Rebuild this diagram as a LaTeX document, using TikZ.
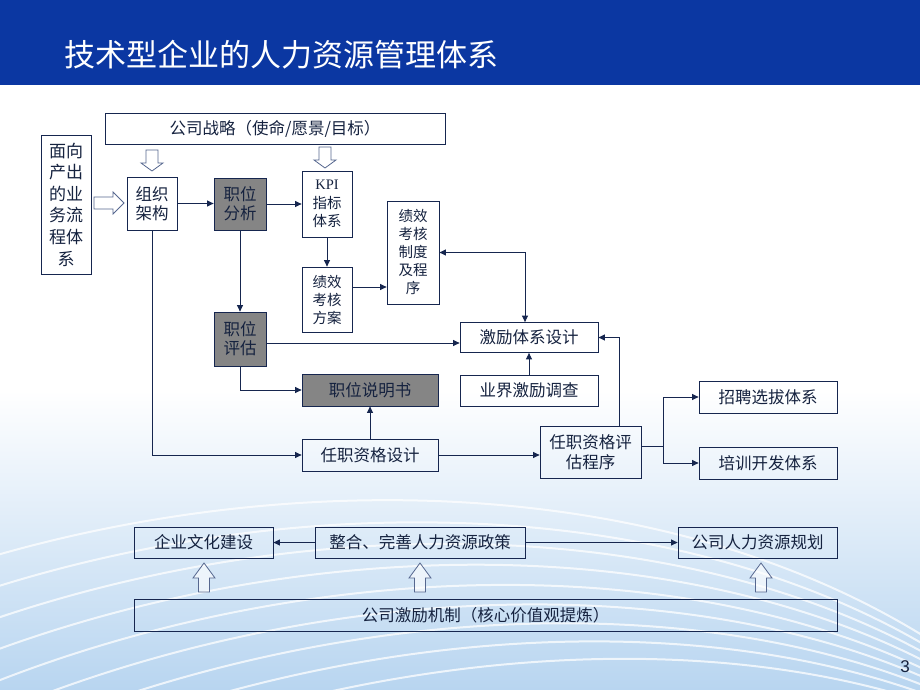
\documentclass[tikz,border=0pt]{standalone}
\usepackage{fontspec}
\newfontfamily\cjk{Noto Sans CJK SC}
\newfontfamily\serifkpi{Liberation Serif}
\newfontfamily\latinsans{Liberation Sans}
\usetikzlibrary{arrows.meta,calc}
\definecolor{hdr}{HTML}{0B37A2}
\definecolor{lc}{HTML}{16264F}
\definecolor{tc}{HTML}{15223F}
\definecolor{gbox}{HTML}{858585}
\definecolor{bgb}{HTML}{B8D5F0}
\definecolor{hol}{HTML}{56678F}
\newcommand\hdown[4]{\draw[hollow] (#1-6,#2) -- (#1+6,#2) -- (#1+6,#3-#4) -- (#1+11,#3-#4) -- (#1,#3) -- (#1-11,#3-#4) -- (#1-6,#3-#4) -- cycle;}
\newcommand\hup[4]{\draw[hollow] (#1-5.5,#2) -- (#1+5.5,#2) -- (#1+5.5,#3+#4) -- (#1+11,#3+#4) -- (#1,#3) -- (#1-11,#3+#4) -- (#1-5.5,#3+#4) -- cycle;}
\begin{document}
\begin{tikzpicture}[x=1pt,y=-1pt,
  bx/.style={draw=lc,line width=0.8pt,inner sep=0pt,text=tc,align=center,
     font=\cjk\fontsize{16.5}{19}\selectfont},
  gb/.style={bx,fill=gbox},
  arr/.style={draw=lc,line width=0.9pt,-{Triangle[length=6.5pt,width=6pt]}},
  darr/.style={draw=lc,line width=0.9pt,{Triangle[length=6.5pt,width=6pt]}-{Triangle[length=6.5pt,width=6pt]}},
  ln/.style={draw=lc,line width=0.9pt},
  hollow/.style={draw=hol,line width=0.8pt,fill=white,fill opacity=0.6,draw opacity=1}]
\useasboundingbox (0,0) rectangle (920,690);
% background
\fill[white] (0,0) rectangle (920,690);
\shade[top color=white,bottom color=bgb] (0,390) rectangle (920,690);
\begin{scope}[draw=white,line width=2pt,opacity=0.75]
\foreach \i in {0,...,8}{
  \draw (-20,{560+\i*32}) .. controls (280,{470+\i*24}) and (660,{470+\i*18}) .. (930,{640+\i*8});
}
\end{scope}
\fill[hdr] (0,0) rectangle (920,85);
\node[anchor=west,text=white,inner sep=0pt,font=\cjk\fontsize{31}{35}\selectfont] (title) at (64,55) {技术型企业的人力资源管理体系};
% nodes
\node[bx,minimum width=340,minimum height=31] (strat) at (275,128.5) {公司战略（使命/愿景/目标）};
\node[bx,minimum width=50,minimum height=139,font=\cjk\fontsize{17}{21.6}\selectfont] (face) at (66,204.5) {面向\\产出\\的业\\务流\\程体\\系};
\node[bx,minimum width=50,minimum height=53] (org) at (152,203.5) {组织\\架构};
\node[gb,minimum width=52,minimum height=52] (jobana) at (240,204) {职位\\分析};
\node[bx,minimum width=50,minimum height=66,font=\cjk\fontsize{14.5}{18.5}\selectfont] (kpi) at (327,204) {{\serifkpi KPI}\\指标\\体系};
\node[bx,minimum width=52,minimum height=103,font=\cjk\fontsize{14.5}{18}\selectfont] (zhidu) at (413,252.5) {绩效\\考核\\制度\\及程\\序};
\node[bx,minimum width=50,minimum height=65,font=\cjk\fontsize{14.5}{18}\selectfont] (fangan) at (327,299.5) {绩效\\考核\\方案};
\node[bx,minimum width=138,minimum height=30] (incent) at (529,337.5) {激励体系设计};
\node[gb,minimum width=52,minimum height=54] (jobeval) at (240,339) {职位\\评估};
\node[gb,minimum width=136,minimum height=32] (jd) at (370,390) {职位说明书};
\node[bx,minimum width=138,minimum height=31] (survey) at (529,390.5) {业界激励调查};
\node[bx,minimum width=136,minimum height=32] (qualdes) at (370,455) {任职资格设计};
\node[bx,minimum width=101,minimum height=52,font=\cjk\fontsize{16.5}{20}\selectfont] (qualeval) at (590.5,452) {任职资格评\\估程序};
\node[bx,minimum width=138,minimum height=32] (recruit) at (768,397) {招聘选拔体系};
\node[bx,minimum width=138,minimum height=32] (train) at (768,463) {培训开发体系};
\node[bx,minimum width=139,minimum height=31] (culture) at (203.5,542.5) {企业文化建设};
\node[bx,minimum width=210,minimum height=31] (policy) at (420,542.5) {整合、完善人力资源政策};
\node[bx,minimum width=159,minimum height=31] (plan) at (757.5,542.5) {公司人力资源规划};
\node[bx,minimum width=703,minimum height=32] (mech) at (485.5,615) {公司激励机制（核心价值观提炼）};
\node[text=tc,inner sep=0pt,font=\latinsans\fontsize{17}{20}\selectfont] (pg) at (905,667) {3};
% hollow arrows
\hdown{152}{150}{171}{8}
\hdown{325}{147}{168}{8}
\draw[hollow] (94,197) -- (113,197) -- (113,192) -- (124,203) -- (113,214) -- (113,209) -- (94,209) -- cycle;
\hup{204}{592}{563}{15}
\hup{420}{592}{563}{15}
\hup{761}{592}{563}{15}
% connectors
\coordinate (y287) at (0,287);
\coordinate (y343) at (0,343);
\coordinate (br) at (663,446);
\draw[arr] (org.east) -- (jobana.west |- org.east);
\draw[arr] (jobana.east) -- (kpi.west |- jobana.east);
\draw[arr] (kpi.south) -- (fangan.north);
\draw[arr] (fangan.east |- y287) -- (zhidu.west |- y287);
\draw[darr] (zhidu.east) -| ([xshift=-4pt]incent.north);
\draw[arr] (jobana.south) -- (jobeval.north);
\draw[arr] (jobeval.east |- y343) -- (incent.west |- y343);
\draw[arr] (jobeval.south) |- (jd.west);
\draw[arr] (survey.north) -- (incent.south);
\draw[arr] (qualdes.north) -- (jd.south);
\draw[arr] (org.south) |- (qualdes.west);
\draw[arr] (qualdes.east) -- (qualeval.west |- qualdes.east);
\draw[arr] ([xshift=28.5pt]qualeval.north) |- (incent.east);
\draw[ln] (qualeval.east |- br) -- (br);
\draw[arr] (br) |- (recruit.west);
\draw[arr] (br) |- (train.west);
\draw[arr] (policy.west) -- (culture.east);
\draw[arr] (policy.east) -- (plan.west);
\end{tikzpicture}
\end{document}
